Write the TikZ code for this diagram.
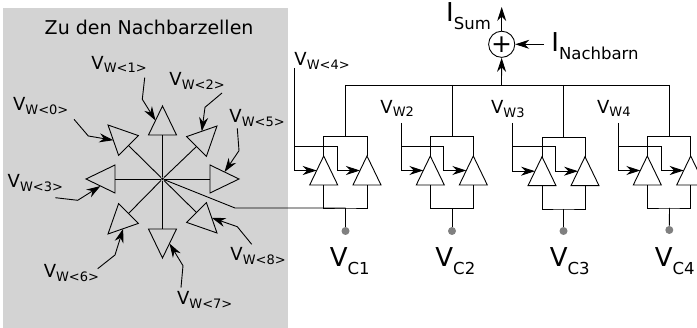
\documentclass[tikz,border=0pt]{standalone}
\usepackage{fontspec}
\setmainfont{DejaVu Sans}
\usetikzlibrary{shapes.geometric}
\usetikzlibrary{arrows.meta}
\newcommand{\subsm}[1]{\raisebox{-3.5pt}{\fontsize{13}{13}\selectfont #1}}
\newcommand{\subbg}[1]{\raisebox{-8.3pt}{\fontsize{16.5}{16.5}\selectfont #1}}
\tikzset{%
    tri/.style={draw,isosceles triangle,isosceles triangle stretches,minimum width=28pt,minimum height=29pt,inner sep=0pt,outer sep=0pt,anchor=apex},
    sig/.style={-{Stealth[length=14pt,width=9pt,inset=4.5pt]}},
    dot/.style={inner sep=0pt,minimum size=8pt,circle,fill=dotgray},
    lbl/.style={anchor=base west,inner sep=0pt,font=\fontsize{18}{18}\selectfont},
    lblbig/.style={anchor=base west,inner sep=0pt,font=\fontsize{26}{26}\selectfont}
}
\definecolor{panelgray}{HTML}{D3D3D3}
\definecolor{dotgray}{HTML}{808080}
\begin{document}
\begin{tikzpicture}[x=1pt,y=-1pt,line width=0.9pt]
        \useasboundingbox (0,0) rectangle (697,328);
        \fill[panelgray] (3,8) rectangle (288,328);

        \node[anchor=base west,inner sep=0pt,font=\fontsize{19}{19}\selectfont] (title) at (44.3,34.3) {Zu den Nachbarzellen};

        % neighbour star
        \node[inner sep=0pt,minimum size=3pt,circle,fill=black] (c) at (162.5,179){};

        \node[tri,rotate=135] (t0) at (108,125){};
        \node[tri,rotate=90] (t1) at (162.5,106){};
        \node[tri,rotate=45] (t2) at (217,126){};
        \node[tri,rotate=180] (t3) at (86,179){};
        \node[tri,rotate=0] (t5) at (239,179){};
        \node[tri,rotate=225] (t6) at (108,234){};
        \node[tri,rotate=270] (t7) at (162.5,258){};
        \node[tri,rotate=315] (t8) at (217,233){};

        \draw (c) -- (t0.lower side);
        \draw (c) -- (t1.lower side);
        \draw (c) -- (t2.lower side);
        \draw (c) -- (t3.lower side);
        \draw (c) -- (t5.lower side);
        \draw (c) -- (t6.lower side);
        \draw (c) -- (t7.lower side);
        \draw (c) -- (t8.lower side);

        \node[lbl] (v0) at (12.7,110.7) {V\subsm{W<0>}};
        \node[lbl] (v1) at (91,69.5) {V\subsm{W<1>}};
        \node[lbl] (v2) at (169,86) {V\subsm{W<2>}};
        \node[lbl] (v3) at (7.3,187.7) {V\subsm{W<3>}};
        \node[lbl] (v5) at (229,122.7) {V\subsm{W<5>}};
        \node[lbl] (v6) at (43.3,278) {V\subsm{W<6>}};
        \node[lbl] (v7) at (176.7,305) {V\subsm{W<7>}};
        \node[lbl] (v8) at (230,261) {V\subsm{W<8>}};

        \coordinate (s0) at (74,119.3);
        \coordinate (m0) at (88.3,136);
        \coordinate (s1) at (144.7,77.7);
        \coordinate (m1) at (142.3,99.3);
        \coordinate (s2) at (222,93);
        \coordinate (m2) at (205,107.3);
        \coordinate (s3) at (55.3,197.7);
        \coordinate (m3) at (77.7,200.3);
        \coordinate (s5) at (237.3,128.3);
        \coordinate (m5) at (239,150.7);
        \coordinate (s6) at (97.7,268.7);
        \coordinate (m6) at (115,255);
        \coordinate (s7) at (181,287.7);
        \coordinate (m7) at (183,265.7);
        \coordinate (s8) at (251.7,244.3);
        \coordinate (m8) at (237.3,226.7);

        \draw[sig] (s0) -- (m0) -- (t0.left side);
        \draw[sig] (s1) -- (m1) -- (t1.left side);
        \draw[sig] (s2) -- (m2) -- (t2.left side);
        \draw[sig] (s3) -- (m3) -- (t3.left side);
        \draw[sig] (s5) -- (m5) -- (t5.left side);
        \draw[sig] (s6) -- (m6) -- (t6.left side);
        \draw[sig] (s7) -- (m7) -- (t7.left side);
        \draw[sig] (s8) -- (m8) -- (t8.left side);

        % cells
        \node[tri,rotate=90] (1a) at (323.7,156){};
        \node[tri,rotate=90] (1b) at (367,156){};
        \node[tri,rotate=90] (2a) at (430.3,156){};
        \node[tri,rotate=90] (2b) at (473.3,156){};
        \node[tri,rotate=90] (3a) at (542,156.7){};
        \node[tri,rotate=90] (3b) at (585,156.7){};
        \node[tri,rotate=90] (4a) at (647.3,156){};
        \node[tri,rotate=90] (4b) at (690.7,156){};

        \node[dot] (d1) at (345.5,231){};
        \node[dot] (d2) at (452,231){};
        \node[dot] (d3) at (563.5,231){};
        \node[dot] (d4) at (669.3,230){};

        \coordinate (bus1) at (345.5,85);
        \coordinate (bus2) at (452.5,85);
        \coordinate (bus3) at (563.5,85);
        \coordinate (bus4) at (669.5,85);
        \coordinate (busum) at (501.5,85);

        \coordinate (top1) at (345.5,136.5);
        \coordinate (top2) at (452.5,136.5);
        \coordinate (top3) at (563.5,137.3);
        \coordinate (top4) at (669.5,136.5);

        \coordinate (bot1) at (345.5,208);
        \coordinate (bot2) at (452,208.5);
        \coordinate (bot3) at (563.5,209);
        \coordinate (bot4) at (669.5,208);

        \draw (bus1) -- (bus4);
        \draw (bus1) -- (top1);
        \draw (bus2) -- (top2);
        \draw (bus3) -- (top3);
        \draw (bus4) -- (top4);

        \draw (1a.apex) |- (top1) -| (1b.apex);
        \draw (2a.apex) |- (top2) -| (2b.apex);
        \draw (3a.apex) |- (top3) -| (3b.apex);
        \draw (4a.apex) |- (top4) -| (4b.apex);

        \draw (1a.lower side) |- (bot1) -| (1b.lower side);
        \draw (2a.lower side) |- (bot2) -| (2b.lower side);
        \draw (3a.lower side) |- (bot3) -| (3b.lower side);
        \draw (4a.lower side) |- (bot4) -| (4b.lower side);

        \draw (bot1) -- (d1);
        \draw (bot2) -- (d2);
        \draw (bot3) -- (d3);
        \draw (bot4) -- (d4);

        \coordinate (k) at (235,208);
        \draw (c) -- (k) -- (bot1);

        % inputs
        \node[lbl] (v4) at (294,65.7) {V\subsm{W<4>}};
        \node[lbl] (w2) at (380,113.3) {V\subsm{W2}};
        \node[lbl] (w3) at (490.7,114) {V\subsm{W3}};
        \node[lbl] (w4) at (596.7,113.5) {V\subsm{W4}};

        \coordinate (i1) at (294.7,68);
        \coordinate (i2) at (401,123);
        \coordinate (i3) at (512.5,123);
        \coordinate (i4) at (618,123);

        \coordinate (j1) at (294.7,146);
        \coordinate (j2) at (401,146);
        \coordinate (j3) at (512.5,146.7);
        \coordinate (j4) at (618,146);

        \coordinate (q1) at (337.3,146);
        \coordinate (q2) at (443.7,146);
        \coordinate (q3) at (555.7,146.7);
        \coordinate (q4) at (661,146);

        \draw[sig] (i1) |- (1a.left side);
        \draw[sig] (i2) |- (2a.left side);
        \draw[sig] (i3) |- (3a.left side);
        \draw[sig] (i4) |- (4a.left side);

        \draw[sig] (j1) -- (q1) |- (1b.left side);
        \draw[sig] (j2) -- (q2) |- (2b.left side);
        \draw[sig] (j3) -- (q3) |- (3b.left side);
        \draw[sig] (j4) -- (q4) |- (4b.left side);

        \node[lblbig] (c1) at (329.3,266.7) {V\subbg{C1}};
        \node[lblbig] (c2) at (435,266.7) {V\subbg{C2}};
        \node[lblbig] (c3) at (549.3,266.7) {V\subbg{C3}};
        \node[lblbig] (c4) at (654.3,266.7) {V\subbg{C4}};

        % summing point
        \node[circle,draw,inner sep=0pt,minimum size=23pt,font=\fontsize{25}{25}\selectfont] (add) at (501.7,44.3) {+};
        \node[lblbig] (isum) at (445.7,21.7) {I\subbg{Sum}};
        \node[lblbig] (inb) at (551,51.7) {I\subbg{Nachbarn}};

        \coordinate (out) at (501.7,7);
        \coordinate (inl) at (544,44.3);

        \draw[sig] (busum) -- (add);
        \draw[sig] (add) -- (out);
        \draw[sig] (inl) -- (add);
\end{tikzpicture}
\end{document}
